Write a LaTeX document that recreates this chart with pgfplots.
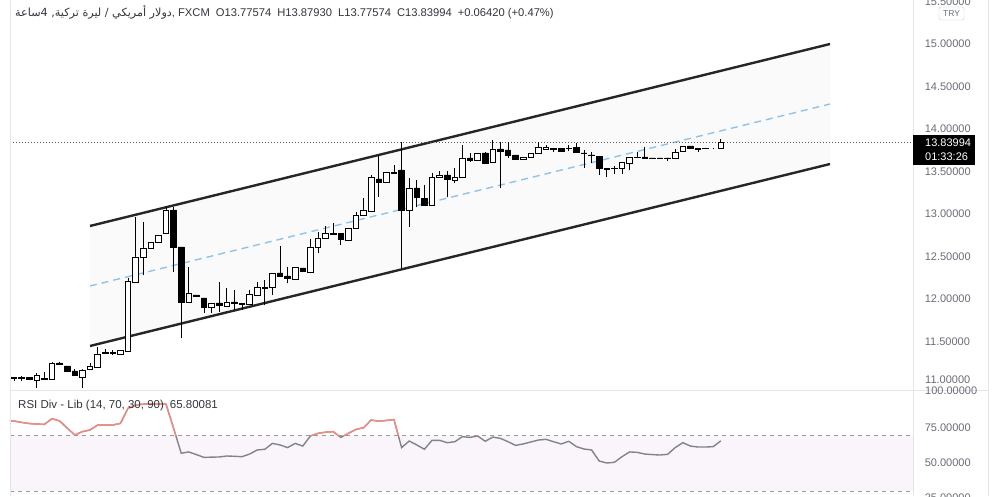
\documentclass[border=0pt]{standalone}
\usepackage{pgfplots}
\pgfplotsset{compat=1.18}
\usepackage{pgfplotstable}
\usepackage{fontspec}
\setmainfont{Liberation Sans}
\newfontfamily\arabicfont[Script=Arabic]{DejaVu Sans}
\TeXXeTstate=1

\definecolor{tvgray}{HTML}{6A6D78}
\definecolor{tvtext}{HTML}{33363D}
\definecolor{chanfill}{HTML}{FAFAFA}
\definecolor{midblue}{HTML}{8EC3EE}
\definecolor{rsiband}{HTML}{FAF5FB}
\definecolor{rsigray}{HTML}{85828A}
\definecolor{rsired}{HTML}{F28B82}
\definecolor{frameln}{HTML}{E3E5EA}

\pgfplotstableread{
i o h l c
1 11.082 11.082 11.035 11.071
2 11.071 11.094 11.035 11.076
3 11.082 11.082 11.059 11.059
4 11.047 11.129 10.953 11.106
5 11.059 11.141 11.059 11.071
6 11.059 11.259 11.059 11.247
7 11.247 11.259 11.224 11.224
8 11.212 11.212 11.153 11.153
9 11.153 11.176 11.106 11.106
10 11.082 11.176 10.953 11.165
11 11.176 11.247 11.176 11.212
12 11.200 11.435 11.200 11.353
13 11.365 11.412 11.365 11.376
14 11.365 11.400 11.341 11.371
15 11.353 11.400 11.353 11.400
16 11.388 12.247 11.388 12.212
17 12.200 12.965 12.200 12.494
18 12.494 12.906 12.282 12.600
19 12.600 12.671 12.600 12.671
20 12.671 12.753 12.671 12.753
21 12.776 13.082 12.776 13.047
22 13.047 13.082 12.318 12.612
23 12.612 12.612 11.541 11.965
24 11.965 12.376 11.965 12.071
25 12.047 12.047 12.024 12.024
26 12.012 12.012 11.835 11.906
27 11.906 11.953 11.835 11.953
28 11.953 12.200 11.847 11.929
29 11.918 12.129 11.918 11.965
30 11.965 12.106 11.871 11.947
31 11.941 11.953 11.871 11.947
32 11.941 12.106 11.941 12.059
33 12.047 12.200 12.047 12.141
34 12.129 12.224 11.929 12.135
35 12.141 12.306 12.047 12.306
36 12.306 12.624 12.271 12.271
37 12.271 12.376 12.188 12.247
38 12.235 12.376 12.235 12.376
39 12.365 12.365 12.329 12.329
40 12.318 12.706 12.318 12.612
41 12.612 12.788 12.541 12.718
42 12.718 12.859 12.718 12.776
43 12.765 12.894 12.753 12.771
44 12.776 12.776 12.635 12.706
45 12.694 12.835 12.694 12.835
46 12.824 13.024 12.824 12.988
47 12.988 13.188 12.988 13.047
48 13.024 13.459 13.024 13.424
49 13.412 13.694 13.200 13.376
50 13.376 13.494 13.376 13.494
51 13.482 13.576 13.482 13.494
52 13.518 13.847 12.365 13.047
53 13.047 13.424 12.847 13.306
54 13.306 13.400 13.082 13.200
55 13.188 13.341 13.106 13.106
56 13.106 13.482 13.106 13.435
57 13.424 13.506 13.424 13.459
58 13.459 13.506 13.200 13.412
59 13.400 13.541 13.365 13.435
60 13.435 13.812 13.435 13.659
61 13.659 13.718 13.612 13.635
62 13.624 13.718 13.624 13.718
63 13.718 13.729 13.600 13.600
64 13.612 13.871 13.612 13.765
65 13.765 13.847 13.306 13.741
66 13.753 13.847 13.659 13.694
67 13.694 13.694 13.647 13.647
68 13.647 13.665 13.647 13.665
69 13.671 13.718 13.671 13.718
70 13.718 13.847 13.718 13.788
71 13.765 13.812 13.765 13.782
72 13.776 13.776 13.729 13.765
73 13.776 13.776 13.741 13.741
74 13.771 13.812 13.741 13.776
75 13.788 13.835 13.729 13.729
76 13.718 13.753 13.541 13.712
77 13.694 13.729 13.600 13.688
78 13.682 13.682 13.459 13.541
79 13.541 13.541 13.435 13.529
80 13.535 13.565 13.471 13.541
81 13.541 13.612 13.471 13.612
82 13.600 13.671 13.518 13.671
83 13.665 13.729 13.659 13.671
84 13.671 13.788 13.659 13.659
85 13.659 13.659 13.653 13.653
86 13.659 13.659 13.653 13.653
87 13.659 13.659 13.624 13.653
88 13.659 13.765 13.659 13.729
89 13.741 13.800 13.741 13.800
90 13.800 13.800 13.765 13.776
91 13.771 13.771 13.729 13.765
92 13.776 13.776 13.771 13.771
93 13.776 13.776 13.771 13.776
94 13.77574 13.87930 13.77574 13.83994
}\candles

\pgfplotstableread{
i r
0 80.3
1 80.0
2 79.0
3 78.2
4 77.8
5 77.6
6 81.7
7 80.0
8 75.0
9 70.0
10 72.4
11 73.6
12 77.1
13 77.1
14 77.1
15 78.3
16 89.0
17 91.4
18 92.0
19 92.1
20 92.1
21 92.1
22 74.8
23 57.0
24 57.9
25 56.0
26 54.0
27 54.2
28 54.3
29 55.0
30 54.8
31 54.5
32 56.4
33 59.3
34 59.8
35 64.0
36 62.9
37 61.0
38 64.0
39 62.1
40 69.3
41 71.2
42 72.0
43 72.4
44 68.3
45 71.2
46 74.0
47 75.2
48 80.7
49 79.8
50 80.4
51 81.0
52 61.0
53 65.7
54 62.9
55 59.8
56 66.2
57 66.2
58 64.5
59 65.2
60 68.8
61 68.3
62 69.3
63 65.5
64 68.5
65 67.6
66 65.2
67 62.6
68 63.6
69 65.0
70 66.4
71 66.9
72 65.2
73 63.6
74 65.5
75 61.7
76 60.0
77 59.3
78 51.4
79 50.0
80 50.5
81 54.5
82 57.9
83 57.6
84 56.4
85 56.0
86 55.7
87 56.2
88 61.0
89 64.5
90 62.1
91 61.4
92 61.4
93 61.7
94 65.8
}\rsi

\pgfplotsset{
  tvbase/.style={
    scale only axis, anchor=south west, width=903pt,
    xmin=0.4737, xmax=119.29,
    axis line style={draw=none}, xtick=\empty,
    major tick length=0pt, minor tick num=0,
    scaled y ticks=false,
    /pgf/number format/assume math mode=true,
    yticklabel pos=right,
    y tick label style={anchor=west, xshift=8.3pt, text=tvgray,
      font=\fontsize{11}{13}\selectfont,
      /pgf/number format/fixed, /pgf/number format/fixed zerofill,
      /pgf/number format/precision=5, /pgf/number format/1000 sep={}},
  },
}

\begin{document}
\begin{tikzpicture}[x=1pt,y=1pt]
\useasboundingbox (0,0) rectangle (999,496);
\fill[white] (0,0) rectangle (999,496);

% ---- main price panel: channel, wicks, ticks
\begin{axis}[tvbase, at={(10pt,107pt)}, height=389pt,
  ymin=10.941, ymax=15.5176,
  ytick={11.5,12,12.5,13,13.5,14,14.5,15,15.5}]
\addplot[fill=chanfill, draw=none] coordinates {(11,12.859) (108.37,15.0) (108.37,13.588) (11,11.447)} -- cycle;
\addplot[midblue, line width=1.4pt, dash pattern=on 7pt off 5pt] coordinates {(11,12.153) (108.37,14.294)};
\addplot[black!85, line width=2.4pt] coordinates {(11,12.859) (108.37,15.0)};
\addplot[black!85, line width=2.4pt] coordinates {(11,11.447) (108.37,13.588)};
\addplot[black!65, line width=0.8pt, dash pattern=on 1pt off 2pt] coordinates {(0.4737,13.83994) (119.29,13.83994)};
\addplot[only marks, mark=none, mark size=0pt, mark options={draw=none, fill=none},
  error bars/.cd, y dir=plus, y explicit, error mark=none,
  error bar style={black, solid, line width=0.9pt}]
  table[x=i, y=l, y error expr=\thisrow{h}-\thisrow{l}] {\candles};
\end{axis}

% ---- candle bodies
\begin{axis}[tvbase, at={(10pt,107pt)}, height=389pt,
  ymin=10.941, ymax=15.5176, ytick=\empty,
  ybar stacked, bar width=5.5pt]
\addplot[draw=none, fill=none] table[x=i, y expr={min(\thisrow{o},\thisrow{c})}] {\candles};
\addplot[draw=black, fill=white, line width=0.9pt] table[x=i, y expr={max(\thisrow{c}-\thisrow{o},0)}] {\candles};
\addplot[draw=black, fill=black, line width=0.9pt] table[x=i, y expr={max(\thisrow{o}-\thisrow{c},0)}] {\candles};
\end{axis}

% ---- RSI panel
\begin{axis}[tvbase, at={(10pt,-3.4pt)}, height=109.4pt,
  ymin=24, ymax=102.14, ytick={25,50,75}]
\addplot[fill=rsiband, draw=none] coordinates {(0.4737,30) (119.29,30) (119.29,70) (0.4737,70)} -- cycle;
\addplot[black!40, line width=1pt, dash pattern=on 4pt off 4pt] coordinates {(0.4737,70) (119.29,70)};
\addplot[black!40, line width=1pt, dash pattern=on 4pt off 4pt] coordinates {(0.4737,30) (119.29,30)};
\addplot[rsigray, line width=1.4pt] table[x=i, y=r] {\rsi};
\end{axis}

% ---- RSI above 70 in red
\begin{axis}[tvbase, at={(10pt,61pt)}, height=45pt,
  ymin=70, ymax=102.14, ytick=\empty]
\addplot[rsired, line width=1.4pt] table[x=i, y=r] {\rsi};
\end{axis}

% ---- frame lines
\draw[frameln, line width=0.8pt] (10,0) -- (10,496);
\draw[frameln, line width=0.8pt] (913,0) -- (913,496);
\draw[frameln, line width=0.8pt] (988,0) -- (988,496);
\draw[frameln, line width=1pt] (10,106) -- (988,106);

% ---- scale labels shared by the two panels
\node[anchor=west, inner sep=0pt, text=tvgray, font=\fontsize{11}{13}\selectfont] at (925,116) {11.00000};
\begin{scope}
\clip (913,0) rectangle (988,110);
\node[anchor=west, inner sep=0pt, text=tvgray, font=\fontsize{11}{13}\selectfont] at (925,105) {100.00000};
\end{scope}

% ---- price tag
\fill[black] (913,361) rectangle (975,331);
\node[anchor=west, text=white, inner sep=0pt, font=\fontsize{11}{13}\selectfont] at (925,353) {13.83994};
\node[anchor=west, text=white, inner sep=0pt, font=\fontsize{11}{13}\selectfont] at (925,339) {01:33:26};

% ---- TRY box
\filldraw[fill=white, draw=black!20, rounded corners=2pt] (939,489) rectangle (964,476);
\node[text=tvgray, inner sep=0pt, font=\fontsize{8.5}{10}\selectfont] at (951.5,482.5) {TRY};

% ---- header
\node[anchor=west, inner sep=0pt, text=tvtext, font=\fontsize{11.2}{13}\selectfont] at (15,484)
  {{\arabicfont\beginR دولار أمريكي / ليرة تركية, 4ساعة\endR}, FXCM\hspace{6pt}O13.77574\hspace{6pt}H13.87930\hspace{6pt}L13.77574\hspace{6pt}C13.83994\hspace{6pt}+0.06420 (+0.47\%)};

% ---- RSI title
\node[anchor=west, inner sep=0pt, text=tvtext, font=\fontsize{11.5}{13}\selectfont] at (18,90)
  {RSI Div - Lib (14, 70, 30, 90)\hspace{6pt}65.80081};
\end{tikzpicture}
\end{document}
